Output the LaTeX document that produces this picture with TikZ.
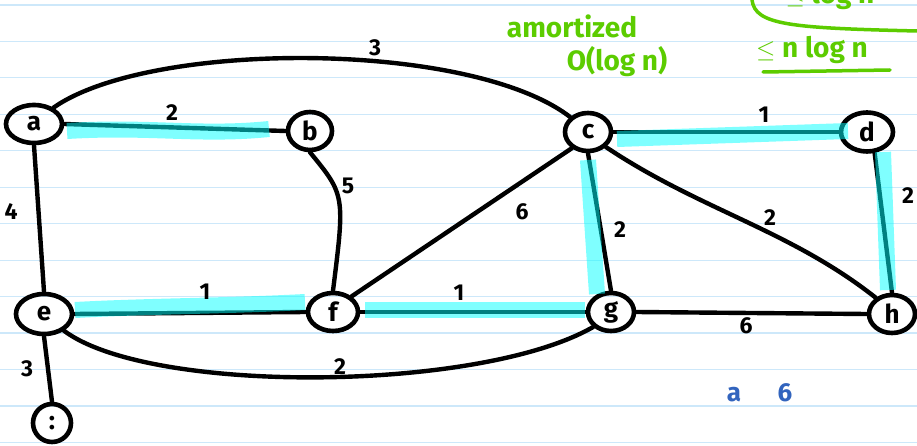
\documentclass[tikz,border=0pt]{standalone}
\usepackage{fontspec}
\setmainfont{Fira Sans}
\usetikzlibrary{shapes.geometric}
\definecolor{rule}{RGB}{205,232,250}
\definecolor{hl}{RGB}{0,255,255}
\definecolor{grn}{RGB}{92,204,0}
\definecolor{blu}{RGB}{50,100,190}
\tikzset{
  vtx/.style={draw=black, line width=4.6pt, ellipse, inner sep=0pt, font=\fontsize{26}{26}\selectfont\bfseries},
  edge/.style={draw=black, line width=4.4pt, line cap=round},
  hilite/.style={draw=hl, opacity=0.5, line width=16pt},
  wlab/.style={font=\fontsize{23}{23}\selectfont\bfseries, inner sep=0pt},
  gtext/.style={text=grn, font=\fontsize{28}{28}\selectfont\bfseries, inner sep=0pt},
  btext/.style={text=blu, font=\fontsize{26}{26}\selectfont\bfseries, inner sep=0pt},
}
\begin{document}
\begin{tikzpicture}[x=1pt,y=-1pt]
\useasboundingbox (0,0) rectangle (917,446);
\clip (0,0) rectangle (917,446);
\fill[white] (0,0) rectangle (917,446);
% ruled lines
\foreach \k in {0,...,12}{
  \draw[rule, line width=1.2pt] (0,{5+36.45*\k}) -- (917,{5+36.45*\k});
}
% nodes
\node[vtx, minimum width=56pt, minimum height=38pt] (a) at (34,124) {a};
\node[vtx, minimum width=44pt, minimum height=38pt] (b) at (310,131) {b};
\node[vtx, minimum width=46pt, minimum height=38pt] (c) at (588,132) {c};
\node[vtx, minimum width=52pt, minimum height=39pt] (d) at (867,132) {d};
\node[vtx, minimum width=56pt, minimum height=40pt] (e) at (44,314) {e};
\node[vtx, minimum width=50pt, minimum height=38pt] (f) at (333,312) {f};
\node[vtx, minimum width=46pt, minimum height=38pt] (g) at (611,312) {g};
\node[vtx, minimum width=46pt, minimum height=38pt] (h) at (892,314) {h};
\node[vtx, minimum width=38pt, minimum height=38pt] (i) at (52,423) {:};
% edges
\draw[edge] (a.40) .. controls (150,40) and (470,40) .. (c.140);
\draw[edge] (a.east) -- (b.west);
\draw[edge] (a.south) -- (e.north);
\draw[edge] (b.south) .. controls (345,195) .. (f.north);
\draw[edge] (c.225) -- (f.40);
\draw[edge] (c.south) -- (g.north);
\draw[edge] (c.east) -- (d.west);
\draw[edge] (c.320) .. controls (700,210) and (790,230) .. (h.135);
\draw[edge] (d.290) -- (h.north);
\draw[edge] (e.east) -- (f.west);
\draw[edge] (f.east) -- (g.west);
\draw[edge] (g.east) -- (h.west);
\draw[edge] (e.320) .. controls (150,395) and (480,392) .. (g.220);
\draw[edge] (e.south) -- (i.north);
% highlights
\draw[hilite] (67,131) .. controls (150,126) and (200,136) .. (269,129);
\draw[hilite] (617,139) -- (848,131);
\draw[hilite] (883,152) -- (888,290);
\draw[hilite] (588,160) -- (597,294);
\draw[hilite] (75,310) .. controls (150,306) and (230,306) .. (305,302);
\draw[hilite] (365,310) -- (585,310);
% weights
\node[wlab] (w-ac) at (375,48) {3};
\node[wlab] (w-ab) at (172,113) {2};
\node[wlab] (w-ae) at (11,212) {4};
\node[wlab] (w-bf) at (348,186) {5};
\node[wlab] (w-cf) at (522,212) {6};
\node[wlab] (w-cg) at (620,230) {2};
\node[wlab] (w-ch) at (770,218) {2};
\node[wlab] (w-cd) at (764,115) {1};
\node[wlab] (w-dh) at (908,196) {2};
\node[wlab] (w-ef) at (205,292) {1};
\node[wlab] (w-fg) at (459,293) {1};
\node[wlab] (w-gh) at (746,326) {6};
\node[wlab] (w-eg) at (340,367) {2};
\node[wlab] (w-ei) at (27,369) {3};
% green notes
\node[gtext] (n1) at (572,26) {amortized};
\node[gtext] (n2) at (617,62) {O(log n)};
\node[gtext] (n3) at (812,50) {$\le$ n log n};
\draw[grn, line width=3.5pt, line cap=round] (763,72) -- (890,70);
\node[gtext] (n4) at (830,-4) {$\le$ log n};
\draw[grn, line width=3.5pt, line cap=round] (752,0) .. controls (755,25) and (790,28) .. (917,31);
% blue notes
\node[btext] (n5) at (734,395) {a};
\node[btext] (n6) at (785,393) {6};
\end{tikzpicture}
\end{document}
